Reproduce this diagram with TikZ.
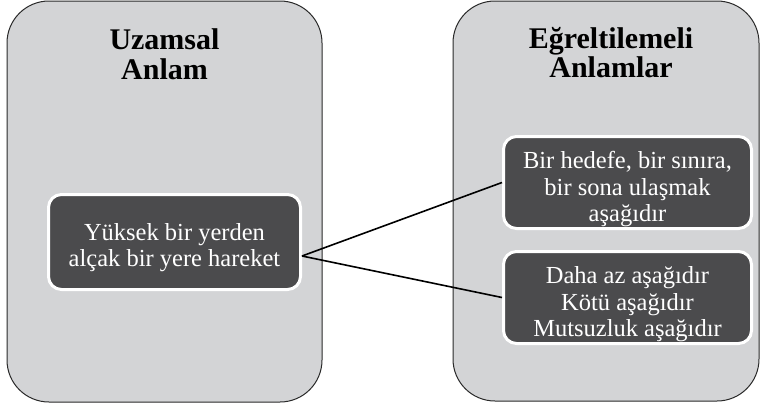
\documentclass[tikz,border=0pt]{standalone}
\usepackage{fontspec}
\setmainfont{Liberation Serif}
\definecolor{panelgray}{HTML}{D3D4D6}
\definecolor{boxdark}{HTML}{4B4B4D}
\definecolor{edgegray}{HTML}{2A2A2A}
\newcommand{\linesof}[1]{\begin{tabular}[t]{@{}c@{}}#1\end{tabular}}
\tikzset{
  panel/.style={draw=edgegray, line width=1pt, fill=panelgray, rounded corners=42pt, inner sep=0pt},
  paneltitle/.style={font=\fontsize{30}{29.5}\selectfont\bfseries, text=black, inner sep=0pt, anchor=base},
  itembox/.style={draw=white, line width=3pt, fill=boxdark, rounded corners=13pt, text=white,
    font=\fontsize{24.5}{26.5}\selectfont, inner sep=0pt, text height=0pt,
    minimum width=248pt, minimum height=92pt},
  link/.style={draw=black, line width=1.6pt}
}
\begin{document}
\begin{tikzpicture}[x=1pt,y=-1pt]
\useasboundingbox (0,0) rectangle (760,408);
\node[panel, minimum width=315pt, minimum height=401pt] (left) at (164.5,201.5) {};
\node[panel, minimum width=306pt, minimum height=400pt] (right) at (606,201) {};
\node[paneltitle] (ltitle) at (164.5,49.8) {\linesof{Uzamsal\\Anlam}};
\node[paneltitle] (rtitle) at (611,48.3) {\linesof{Eğreltilemeli\\Anlamlar}};
\node[itembox, text depth=4pt, minimum width=252pt, minimum height=95pt] (src) at (174.5,242)
  {\linesof{Yüksek bir yerden\\alçak bir yere hareket}};
\node[itembox, text depth=28pt] (m1) at (627.5,182.5)
  {\linesof{Bir hedefe, bir sınıra,\\bir sona ulaşmak\\aşağıdır}};
\node[itembox, text depth=28pt] (m2) at (627.5,297.5)
  {\linesof{Daha az aşağıdır\\Kötü aşağıdır\\Mutsuzluk aşağıdır}};
\coordinate (hub) at ([yshift=-14pt]src.east);
\draw[link] (hub) -- (m1.west);
\draw[link] (hub) -- (m2.west);
\end{tikzpicture}
\end{document}
